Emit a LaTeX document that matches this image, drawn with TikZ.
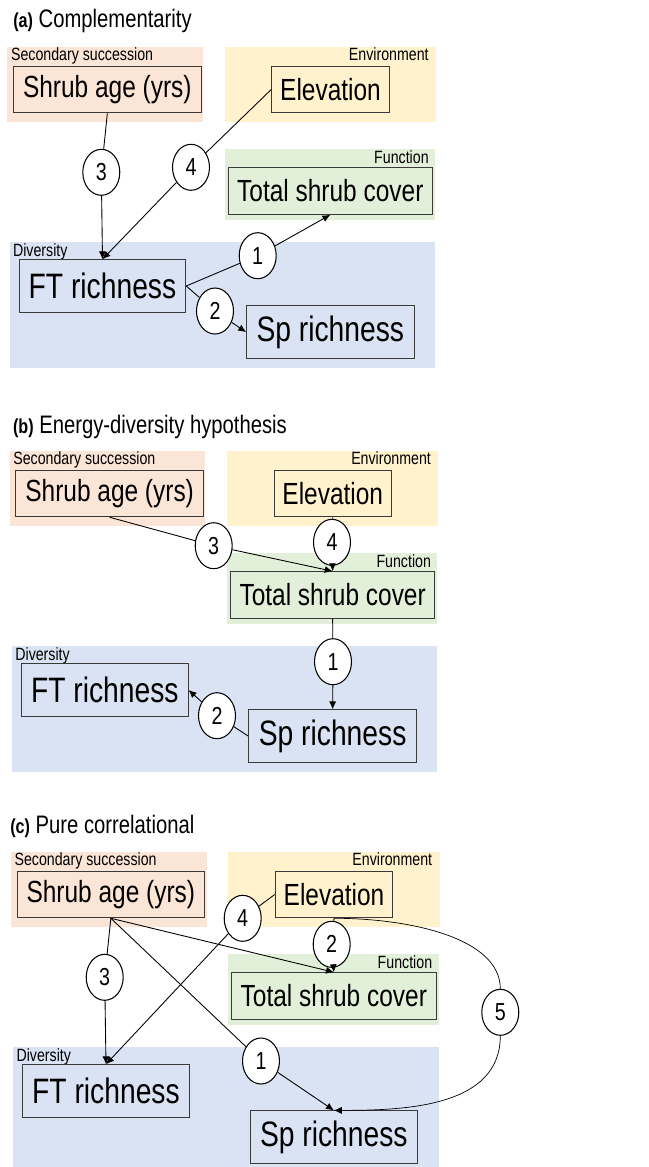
\documentclass[tikz,border=0pt]{standalone}
\usepackage{fontspec}
\usepackage{tikz}
\usetikzlibrary{arrows.meta,shapes.geometric}
\newfontfamily\figfont[FakeStretch=0.8]{Liberation Sans}
\definecolor{secfill}{HTML}{FBE5D6}
\definecolor{envfill}{HTML}{FFF2CC}
\definecolor{funfill}{HTML}{E2F0D9}
\definecolor{divfill}{HTML}{DAE3F3}
\definecolor{boxline}{HTML}{3A3A3A}
\tikzset{
  titletext/.style={inner sep=0pt, font=\figfont\fontsize{14.4}{17}\selectfont},
  grouplabel/.style={inner sep=0pt, font=\figfont\fontsize{10.1}{12}\selectfont},
  varbox/.style={draw=boxline, line width=0.6pt, inner sep=0pt, minimum height=0.93cm,
    font=\figfont\fontsize{17.4}{19}\selectfont},
  divbox/.style={varbox, minimum height=1.05cm, font=\figfont\fontsize{20.1}{22}\selectfont},
  pathnum/.style={ellipse, draw, fill=white, line width=0.6pt, inner sep=0pt,
    minimum width=0.74cm, minimum height=0.92cm, font=\figfont\fontsize{14}{16}\selectfont},
  link/.style={-{Latex[length=4.5pt,width=4pt]}, line width=0.5pt}
}
% groups and variables, the same in all three panels
\newcommand{\panelbase}{%
  \fill[secfill] (7.3,0) rectangle (203,75);
  \fill[envfill] (224.7,0) rectangle (436,75);
  \fill[funfill] (224.7,102) rectangle (435,172.7);
  \fill[divfill] (9.7,195) rectangle (435,321);
  \node[grouplabel, anchor=north west] (lsec) at (10.7,0.5) {Secondary succession};
  \node[grouplabel, anchor=north east] (lenv) at (429,0.5) {Environment};
  \node[grouplabel, anchor=north east] (lfun) at (429,103) {Function};
  \node[grouplabel, anchor=north west] (ldiv) at (12.7,196) {Diversity};
  \node[varbox, minimum width=3.75cm] (sa) at (107.35,42.5) {Shrub age (yrs)};
  \node[varbox, minimum width=2.35cm] (el) at (330.5,42.5) {Elevation};
  \node[varbox, minimum width=4.09cm] (tsc) at (330.35,144) {Total shrub cover};
  \node[divbox, minimum width=3.33cm] (ft) at (102.5,239) {FT richness};
  \node[divbox, minimum width=3.35cm] (sp) at (330.35,285.15) {Sp richness};
}

\begin{document}
\begin{tikzpicture}[x=0.02cm, y=-0.02cm]
  \useasboundingbox (0,0) rectangle (649,1167);
  % (a) Complementarity
  \begin{scope}[shift={(0,47)}, name prefix=a-]
    \node[titletext, anchor=base west] (ttl) at (13,-19.7)
      {{\bfseries\fontsize{11.5}{13}\selectfont (a)} Complementarity};
    \panelbase
    \node[pathnum] (c3) at (101.3,125.3) {3};
    \node[pathnum] (c4) at (191,120.3) {4};
    \node[pathnum] (c1) at (257.7,208.7) {1};
    \node[pathnum] (c2) at (215,264) {2};
    \draw[link] (sa.south) -- (c3) -- (ft.north);
    \draw[link] (el.west) -- (c4) -- (ft.north);
    \draw[link] (ft.east) -- (c1) -- (tsc.south);
    \draw[link] (ft.east) -- (c2) -- (sp.west);
  \end{scope}
  % (b) Energy-diversity hypothesis
  \begin{scope}[shift={(2.3,451)}, name prefix=b-]
    \node[titletext, anchor=base west] (ttl) at (10.4,-17.7)
      {{\bfseries\fontsize{11.5}{13}\selectfont (b)} Energy-diversity hypothesis};
    \panelbase
    \node[pathnum] (c3) at (211.4,94.7) {3};
    \node[pathnum] (c4) at (329.7,91.3) {4};
    \node[pathnum] (c1) at (330.7,210.7) {1};
    \node[pathnum] (c2) at (214.7,264.7) {2};
    \draw[link] (sa.south) -- (c3) -- (tsc.north);
    \draw[link] (el.south) -- (c4) -- (tsc.north);
    \draw[link] (tsc.south) -- (c1) -- (sp.north);
    \draw[link] (sp.west) -- (c2) -- (ft.east);
  \end{scope}
  % (c) Pure correlational
  \begin{scope}[shift={(3.5,852)}, name prefix=c-]
    \node[titletext, anchor=base west] (ttl) at (6.5,-18.7)
      {{\bfseries\fontsize{11.5}{13}\selectfont (c)} Pure correlational};
    \panelbase
    \node[pathnum] (c4) at (239.2,66.3) {4};
    \node[pathnum] (c2) at (328.2,92.3) {2};
    \node[pathnum] (c3) at (101.2,125.3) {3};
    \node[pathnum] (c1) at (257.5,209) {1};
    \node[pathnum] (c5) at (496.8,160.3) {5};
    \draw[link] (sa.south) -- (c3) -- (ft.north);
    \draw[link] (sa.south) -- (tsc.north);
    \draw[link] (sa.south) -- (c1) -- (sp.north);
    \draw[link] (el.west) -- (c4) -- (ft.north);
    \draw[link] (el.south) -- (c2) -- (tsc.north);
    \draw[link, line width=0.4pt] (el.south) to[out=0, in=90] (c5)
      to[out=-90, in=0] (sp.north);
  \end{scope}
\end{tikzpicture}
\end{document}
